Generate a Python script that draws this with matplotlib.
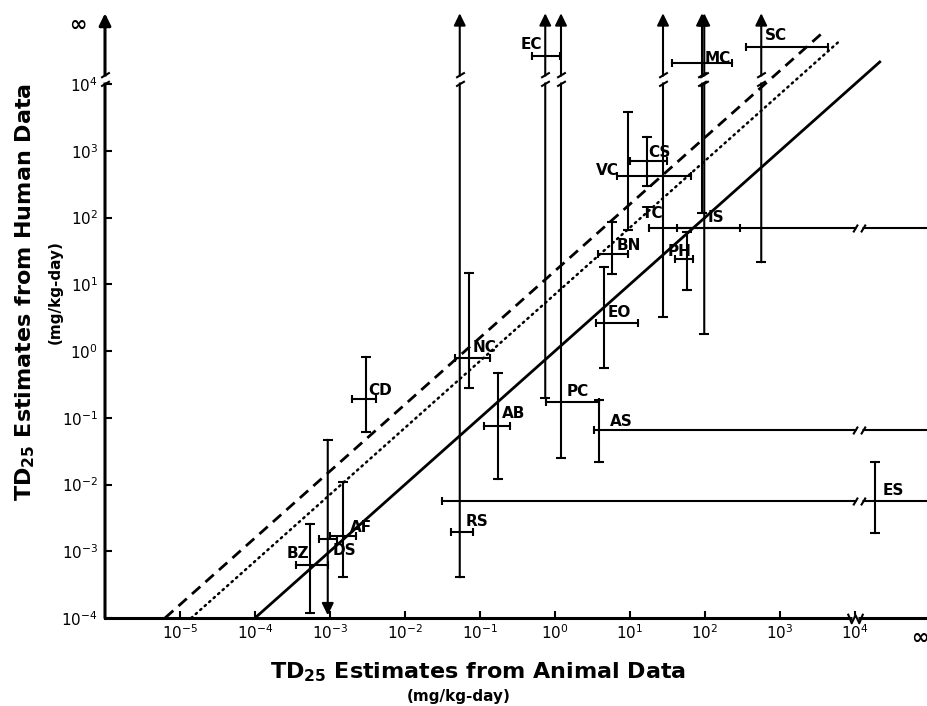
import numpy as np
import matplotlib
matplotlib.use('agg')
import matplotlib.pyplot as plt
from matplotlib.path import Path
from matplotlib.ticker import NullLocator

inf = np.inf

# log10 of TD25 estimates (mg/kg-day); inf = infinite, -inf = zero
names = ['CD', 'NC', 'AB', 'EC', 'PC', 'AS', 'EO', 'BN', 'VC', 'CS',
         'TC', 'IS', 'PH', 'MC', 'SC', 'RS', 'ES', 'DS', 'AF', 'BZ']
animal_est = [-2.52, -1.15, -0.76, -0.13, 0.08, 0.59, 0.65, 0.76, 0.97, 1.23,
              1.44, 1.99, 1.76, 1.96, 2.75, -1.27, 4.27, -3.03, -2.83, -3.27]
animal_lo = [-2.71, -1.33, -0.95, -0.31, -0.12, 0.52, 0.55, 0.57, 0.83, 1.00,
             1.25, 1.63, 1.60, 1.56, 2.55, -1.39, -1.51, -3.15, -3.00, -3.45]
animal_hi = [-2.39, -0.87, -0.60, 0.07, 0.59, inf, 1.11, 0.97, 1.81, 1.49,
             2.47, inf, 1.84, 2.36, 3.64, -1.09, inf, -2.91, -2.65, -3.03]
human_est = [-0.72, -0.10, -1.12, 4.42, -0.76, -1.18, 0.42, 1.45, 2.62, 2.85,
             1.85, 1.85, 1.38, 4.31, 4.55, -2.71, -2.25, -2.82, -2.77, -3.21]
human_lo = [-1.21, -0.55, -1.92, -0.70, -1.60, -1.66, -0.26, 1.15, 1.82, 2.47,
            0.51, 0.26, 0.91, 2.07, 1.33, -3.39, -2.73, -inf, -3.39, -3.93]
human_hi = [-0.09, 1.17, -0.33, inf, inf, -0.73, 1.26, 1.93, 3.58, 3.21,
            inf, inf, 1.78, inf, inf, inf, -1.66, -1.33, -1.96, -2.59]

# reference lines: human = animal * 10**offset
solid_range, solid_offset = (-4.0, 4.33), 0.0
dashed_range, dashed_offset = (-5.2, 3.6), 1.2
dotted_range, dotted_offset = (-4.85, 3.8), 0.85

x_ticks = list(range(-5, 5))
y_ticks = list(range(-4, 5))

# axis-break / infinity positions (log10 units)
X_BREAK, Y_BREAK = 4.05, 4.07
X_INF, Y_INF = 4.87, 4.88
X_END, Y_TIP, Y_ZERO = 4.97, 5.06, -3.96

# label offsets in pixels (dx, dy up)
label_off = {'CD': (2, 9), 'NC': (4, 10), 'AB': (4, 12), 'EC': (-25, 11),
             'PC': (6, 10), 'AS': (11, 8), 'EO': (4, 10), 'BN': (5, 9),
             'VC': (-32, 6), 'CS': (1, 8), 'TC': (-21, 14), 'IS': (3, 10),
             'PH': (-19, 7), 'MC': (3, 5), 'SC': (4, 12), 'RS': (6, 10),
             'ES': (7, 11), 'DS': (5, -11), 'AF': (7, 8), 'BZ': (-23, 12)}

plt.rcParams['font.family'] = 'DejaVu Sans'
plt.rcParams['mathtext.fontset'] = 'dejavusans'

fig = plt.figure(figsize=(9.28, 7.06), dpi=100)
ax = fig.add_axes([105 / 928, 88 / 706, 823 / 928, 613 / 706])
ax.set_xscale('log')
ax.set_yscale('log')
ax.set_xlim(10 ** -6, 10 ** (-6 + 823 / 75))
ax.set_ylim(10 ** -4, 10 ** (-4 + 613 / 66.75))
for s in ['top', 'right', 'left']:
    ax.spines[s].set_visible(False)
ax.spines['bottom'].set_linewidth(2.2)

ax.set_xticks([10.0 ** k for k in x_ticks])
ax.set_xticklabels([r'$10^{%d}$' % k for k in x_ticks])
ax.set_yticks([10.0 ** k for k in y_ticks])
ax.set_yticklabels([r'$10^{%d}$' % k for k in y_ticks])
ax.xaxis.set_minor_locator(NullLocator())
ax.yaxis.set_minor_locator(NullLocator())
ax.tick_params(direction='in', length=5, width=1.5, labelsize=11)
ax.tick_params(axis='x', pad=4)
ax.tick_params(axis='y', pad=5)

arrow_kw = dict(arrowstyle='-|>,head_length=0.45,head_width=0.22', color='k',
                lw=1.5, mutation_scale=16, shrinkA=0, shrinkB=0)

# y axis with arrow
ax.annotate('', xy=(10 ** -6, 10 ** Y_TIP), xytext=(10 ** -6, 10 ** -4),
            arrowprops=dict(arrow_kw, lw=2.2), annotation_clip=False)

vbreak = Path([(-1, -1.6), (1, -0.4), (-1, 0.4), (1, 1.6)],
              [Path.MOVETO, Path.LINETO, Path.MOVETO, Path.LINETO])
hbreak = Path([(-1.6, -1), (-0.4, 1), (0.4, -1), (1.6, 1)],
              [Path.MOVETO, Path.LINETO, Path.MOVETO, Path.LINETO])
zig = Path([(-1.6, 1), (-0.8, -1), (0, 0.7), (0.8, -1), (1.6, 1)],
           [Path.MOVETO] + [Path.LINETO] * 4)


def draw_break(x, y, path, size=10):
    ax.plot(x, y, marker='s', ms=4, color='white', mec='none', zorder=4, clip_on=False)
    ax.plot(x, y, marker=path, ms=size, mew=1.5, color='k', mfc='none',
            zorder=5, clip_on=False)


draw_break(10 ** -6, 10 ** Y_BREAK, vbreak)
draw_break(10 ** 4, 10 ** -4, zig, size=11)

ax.annotate('∞', xy=(10 ** X_INF, 10 ** -4), xytext=(0, -10), textcoords='offset pixels',
            ha='center', va='top', fontsize=15, fontweight='bold', annotation_clip=False)
ax.annotate('∞', xy=(10 ** -6, 10 ** Y_INF), xytext=(-27, 0), textcoords='offset pixels',
            ha='center', va='center', fontsize=15, fontweight='bold', annotation_clip=False)

# reference lines
xs = 10 ** np.array(solid_range)
ax.plot(xs, xs * 10 ** solid_offset, color='k', lw=2)
xs = 10 ** np.array(dashed_range)
ax.plot(xs, xs * 10 ** dashed_offset, color='k', lw=2, dashes=(4, 2.5))
xs = 10 ** np.array(dotted_range)
ax.plot(xs, xs * 10 ** dotted_offset, color='k', lw=1.8, dashes=(0.6, 1.8),
        dash_capstyle='round')

hcap_x, hcap_y, vcap_x, vcap_y = [], [], [], []
for i, name in enumerate(names):
    xe = 10 ** animal_est[i]
    ye = 10 ** human_est[i]
    # animal range (horizontal)
    xl, xh = animal_lo[i], animal_hi[i]
    xh_pos = X_END if np.isinf(xh) else xh
    ax.plot([10 ** xl, 10 ** xh_pos], [ye, ye], color='k', lw=1.5, clip_on=False)
    hcap_x.append(10 ** xl)
    hcap_y.append(ye)
    if np.isinf(xh):
        draw_break(10 ** X_BREAK, ye, hbreak, size=9)
    else:
        hcap_x.append(10 ** xh)
        hcap_y.append(ye)
    # human range (vertical)
    yl, yh = human_lo[i], human_hi[i]
    if np.isinf(yh):
        ax.annotate('', xy=(xe, 10 ** Y_TIP), xytext=(xe, 10 ** yl),
                    arrowprops=arrow_kw, annotation_clip=False)
        vcap_x.append(xe)
        vcap_y.append(10 ** yl)
        draw_break(xe, 10 ** Y_BREAK, vbreak)
    elif np.isinf(yl):
        ax.annotate('', xy=(xe, 10 ** Y_ZERO), xytext=(xe, 10 ** yh),
                    arrowprops=arrow_kw, annotation_clip=False)
        vcap_x.append(xe)
        vcap_y.append(10 ** yh)
    else:
        ax.plot([xe, xe], [10 ** yl, 10 ** yh], color='k', lw=1.5)
        vcap_x += [xe, xe]
        vcap_y += [10 ** yl, 10 ** yh]
    dx, dy = label_off[name]
    ax.annotate(name, xy=(xe, ye), xytext=(dx, dy), textcoords='offset pixels',
                ha='left', va='center', fontsize=11, fontweight='bold',
                annotation_clip=False)

ax.plot(hcap_x, hcap_y, ls='none', marker='|', ms=6, mew=1.5, color='k', clip_on=False)
ax.plot(vcap_x, vcap_y, ls='none', marker='_', ms=7, mew=1.5, color='k', clip_on=False)

# axis titles
fig.text(478 / 928, 1 - 672 / 706, r'TD$_{\mathbf{25}}$ Estimates from Animal Data',
         ha='center', va='center', fontsize=16, fontweight='bold')
fig.text(459 / 928, 1 - 697 / 706, '(mg/kg-day)', ha='center', va='center',
         fontsize=11, fontweight='bold')
fig.text(25 / 928, 1 - 292 / 706, r'TD$_{\mathbf{25}}$ Estimates from Human Data',
         ha='center', va='center', fontsize=16, fontweight='bold', rotation=90)
fig.text(55 / 928, 1 - 292 / 706, '(mg/kg-day)', ha='center', va='center',
         fontsize=11, fontweight='bold', rotation=90)

fig.savefig('out.png', dpi=100)
